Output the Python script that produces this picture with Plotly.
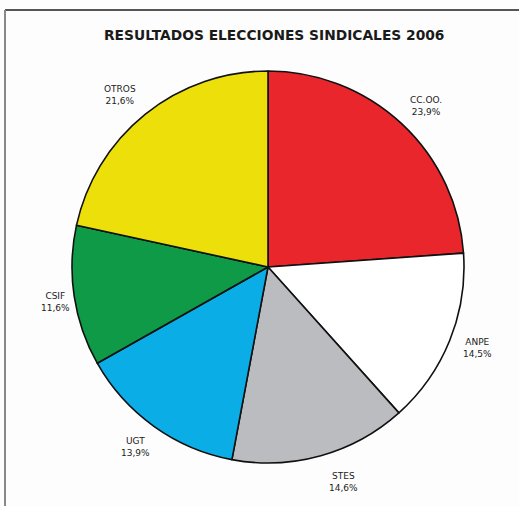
import plotly.graph_objects as go

labels = ["CC.OO.", "ANPE", "STES", "UGT", "CSIF", "OTROS"]
values = [23.9, 14.5, 14.6, 13.9, 11.6, 21.6]
pct_text = ["23,9%", "14,5%", "14,6%", "13,9%", "11,6%", "21,6%"]
colors = ["#E8262C", "#FFFFFF", "#BBBCBF", "#0BADE6", "#0F9A48", "#EDDF0A"]

W, H = 519, 506
cx, cy, r = 268, 267, 196

fig = go.Figure(go.Pie(
    labels=labels, values=values, sort=False, direction="clockwise", rotation=0,
    marker=dict(colors=colors, line=dict(color="#111111", width=1.6)),
    textinfo="none", showlegend=False, hoverinfo="label+percent",
    domain=dict(x=[(cx - r) / W, (cx + r) / W], y=[(H - cy - r) / H, (H - cy + r) / H]),
))

# label positions in pixels (centre of the two-line label)
label_pos = [(426, 106), (477, 348), (343, 482), (135, 447), (55, 302), (120, 95)]
for lab, pt, (x, y) in zip(labels, pct_text, label_pos):
    fig.add_annotation(x=x / W, y=1 - y / H, xref="paper", yref="paper",
                       text=f"{lab}<br>{pt}", showarrow=False,
                       font=dict(family="DejaVu Sans", size=9, color="#222222"),
                       xanchor="center", yanchor="middle", align="center")

fig.add_annotation(x=274 / W, y=1 - 35 / H, xref="paper", yref="paper",
                   text="<b>RESULTADOS ELECCIONES SINDICALES 2006</b>", showarrow=False,
                   font=dict(family="DejaVu Sans", size=13.8, color="#1A1A1A"),
                   xanchor="center", yanchor="middle")

# frame lines (top and left)
fig.add_shape(type="line", xref="paper", yref="paper", x0=5 / W, x1=1, y0=1 - 10 / H, y1=1 - 10 / H,
              line=dict(color="#555555", width=2))
fig.add_shape(type="line", xref="paper", yref="paper", x0=5 / W, x1=5 / W, y0=0, y1=1 - 10 / H,
              line=dict(color="#888888", width=2))

fig.update_layout(width=W, height=H, margin=dict(l=0, r=0, t=0, b=0),
                  paper_bgcolor="#FDFDFD", plot_bgcolor="#FDFDFD")
fig.write_html("out.html")
